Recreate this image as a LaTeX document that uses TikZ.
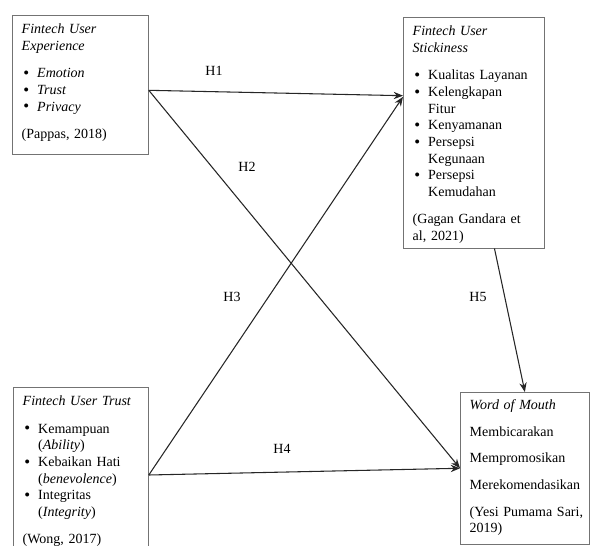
\documentclass[tikz,border=0pt]{standalone}
\usepackage{fontspec}
\setmainfont{Liberation Serif}
\usetikzlibrary{arrows.meta,calc}

\newcommand{\bul}{\makebox[11.6pt][l]{\hspace{1.2pt}\raisebox{-0.4pt}{\fontsize{12.5}{12}\selectfont\textbullet}}}
\newcommand{\ind}{\makebox[11.6pt]{}}
\newcommand{\topgap}{\rule{0pt}{13.9pt}}

\begin{document}
\begin{tikzpicture}[x=0.75pt, y=-0.75pt,
			var/.style={draw=black!55, line width=0.6pt, anchor=north west, align=left, inner xsep=7pt, inner ysep=0pt, font=\fontsize{10.5}{12.5}\selectfont},
			hyp/.style={fill=white, inner sep=2pt, font=\fontsize{10.5}{12.5}\selectfont},
			path/.style={draw=black!85, line width=0.8pt, ->},
			>={Stealth[length=7pt,width=5.5pt]}
			]
			\useasboundingbox (0,0) rectangle (590,546);
			\clip (0,0) rectangle (590,546);
			
			\node[var, text width=88pt] (exp) at (12,15) {\topgap\textit{Fintech User}\\
				\textit{Experience}\\[8pt]
				\bul\textit{Emotion}\\
				\bul\textit{Trust}\\
				\bul\textit{Privacy}\\[8pt]
				(Pappas, 2018)\rule[-11.6pt]{0pt}{0pt}};
			\node[var, text width=91.75pt] (stick) at (403,17) {\topgap\textit{Fintech User}\\
				\textit{Stickiness}\\[8pt]
				\bul Kualitas Layanan\\
				\bul Kelengkapan\\
				\ind Fitur\\
				\bul Kenyamanan\\
				\bul Persepsi\\
				\ind Kegunaan\\
				\bul Persepsi\\
				\ind Kemudahan\\[8pt]
				(Gagan Gandara et\\
				al, 2021)\rule[-5.6pt]{0pt}{0pt}};
			\node[var, text width=87.25pt] (trust) at (13,387) {\topgap\textit{Fintech User Trust}\\[8pt]
				\bul Kemampuan\\
				\ind(\textit{Ability})\\
				\bul Kebaikan Hati\\
				\ind(\textit{benevolence})\\
				\bul Integritas\\
				\ind(\textit{Integrity})\\[8pt]
				(Wong, 2017)\rule[-8pt]{0pt}{0pt}};
			\node[var, text width=82.75pt] (wom) at (460,392) {\rule{0pt}{13.1pt}\textit{Word of Mouth}\\[7.4pt]
				Membicarakan\\[7.4pt]
				Mempromosikan\\[7.4pt]
				Merekomendasikan\\[7.4pt]
				\mbox{(Yesi Pumama Sari,}\\
				2019)\rule[-8.6pt]{0pt}{0pt}};
			
			% hipotesis
			\draw[path] ($(exp.north east)!.54!(exp.south east)$) -- ($(stick.north west)!.34!(stick.south west)$);
			\draw[path] ($(exp.north east)!.54!(exp.south east)$) -- (wom.west);
			\draw[path] ([yshift=-66pt]trust.north east) -- ($(stick.north west)!.345!(stick.south west)$);
			\draw[path] ([yshift=-66pt]trust.north east) -- (wom.west);
			\draw[path] ($(stick.south west)!.645!(stick.south east)$) -- (wom.north);
			
			\node[hyp] (h1) at (214,71) {H1};
			\node[hyp] (h2) at (247,167) {H2};
			\node[hyp] (h3) at (232,297) {H3};
			\node[hyp] (h4) at (282,449) {H4};
			\node[hyp] (h5) at (478,297) {H5};
		\end{tikzpicture}
\end{document}
